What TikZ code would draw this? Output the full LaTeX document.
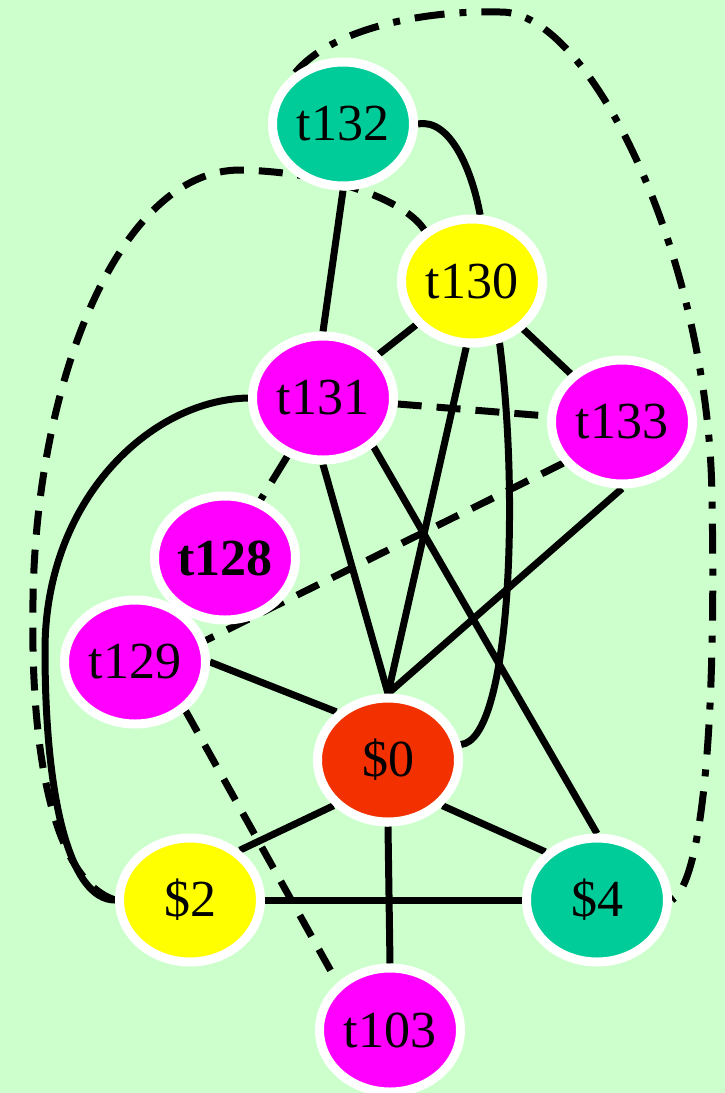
\documentclass[tikz,border=0pt]{standalone}
\usepackage{fontspec}
\setmainfont{Liberation Serif}
\usetikzlibrary{shapes.geometric}
\definecolor{bgc}{RGB}{204,255,204}
\definecolor{tealc}{RGB}{0,204,153}
\definecolor{magc}{RGB}{255,0,255}
\definecolor{yelc}{RGB}{255,255,0}
\definecolor{redc}{RGB}{242,48,0}
\pgfdeclarelayer{bg}
\pgfsetlayers{bg,main}
\tikzset{
  vnode/.style={ellipse, draw=white, line width=9pt, inner sep=0pt,
    minimum width=141pt, minimum height=124pt,
    font=\fontsize{52}{60}\selectfont},
  edge/.style={line width=7pt, black},
  dashedge/.style={edge, dash pattern=on 24pt off 15pt},
  dashdotedge/.style={edge, dash pattern=on 30pt off 15pt on 7pt off 15pt},
}
\begin{document}
\begin{tikzpicture}[x=1pt,y=1pt]
\useasboundingbox (0,0) rectangle (725,-1093);
% nodes
\node[vnode, fill=tealc] (t132) at (343,-124) {t132};
\node[vnode, fill=yelc] (t130) at (472,-281) {t130};
\node[vnode, fill=magc] (t131) at (323,-398) {t131};
\node[vnode, fill=magc] (t133) at (622,-422) {t133};
\node[vnode, fill=magc] (t128) at (225,-558) {\bfseries t128};
\node[vnode, fill=magc] (t129) at (135,-662) {t129};
\node[vnode, fill=redc] (s0) at (388,-760) {\$0};
\node[vnode, fill=yelc] (s2) at (190,-900) {\$2};
\node[vnode, fill=tealc] (s4) at (597,-900) {\$4};
\node[vnode, fill=magc] (t103) at (390,-1030) {t103};
\begin{pgfonlayer}{bg}
\fill[bgc] (0,0) rectangle (725,-1093);
% edges
\draw[edge] (t132.south) -- (t131.north);
\draw[edge] (t132.east) .. controls (450,-118) and (472,-170) .. (t130.83);
\draw[dashedge] (t130.133) .. controls (405,-200) and (330,-172) .. (240,-170)
  .. controls (120,-170) and (36,-380) .. (33,-600)
  .. controls (30,-760) and (55,-880) .. (s2.west);
\draw[dashdotedge] (t132.133) .. controls (330,-30) and (420,-10) .. (500,-12)
  .. controls (590,-10) and (710,-260) .. (712,-500)
  .. controls (716,-700) and (705,-880) .. (s4.east);
\draw[edge] (t130) -- (t131);
\draw[edge] (t130) -- (t133);
\draw[edge] (t130.-95) -- (s0.north);
\draw[edge] (t130.-66) .. controls (520,-500) and (510,-740) .. (s0.12);
\draw[dashedge] (t131) -- (t133);
\draw[dashdotedge] (t131) -- (t128);
\draw[edge] (t131.south) -- (s0.north);
\draw[edge] (t131.-44) -- (s4.north);
\draw[edge] (t131.west) .. controls (150,-400) and (45,-500) .. (45,-650)
  .. controls (45,-800) and (70,-900) .. (s2.west);
\draw[dashedge] (t133.215) -- (t129.17);
\draw[edge] (t133.south) -- (s0.north);
\draw[edge] (t129.east) -- (s0.137);
\draw[dashedge] (t129.-44) -- (t103.138);
\draw[edge] (s0.220) -- (s2.45);
\draw[edge] (s0.-40) -- (s4.137);
\draw[edge] (s0.south) -- (t103.north);
\draw[edge] (s2.east) -- (s4.west);
\end{pgfonlayer}
\end{tikzpicture}
\end{document}
